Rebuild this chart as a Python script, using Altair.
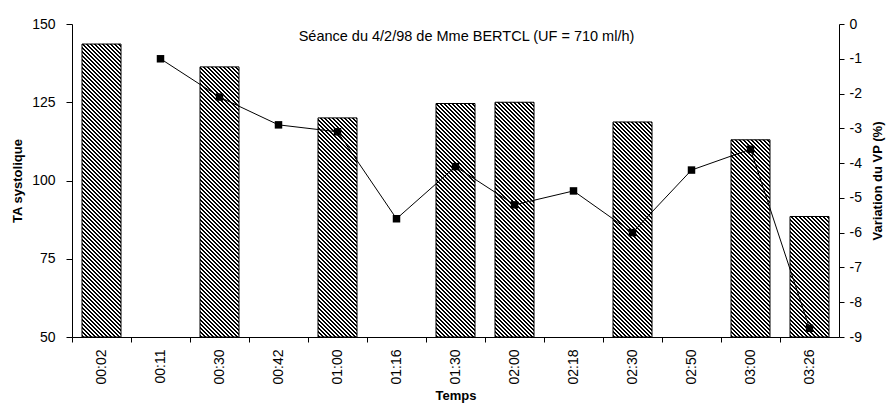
import altair as alt
import pandas as pd

# ---- data ----
temps = ["00:02", "00:11", "00:30", "00:42", "01:00", "01:16", "01:30",
         "02:00", "02:18", "02:30", "02:50", "03:00", "03:26"]

bar_temps = ["00:02", "00:30", "01:00", "01:30", "02:00", "02:30", "03:00", "03:26"]
ta_systolique = [143.6, 136.3, 120.0, 124.6, 125.0, 118.7, 113.0, 88.5]

line_temps = ["00:11", "00:30", "00:42", "01:00", "01:16", "01:30", "02:00",
              "02:18", "02:30", "02:50", "03:00", "03:26"]
variation_vp = [-1.0, -2.1, -2.9, -3.1, -5.6, -4.1, -5.2, -4.8, -6.0, -4.2, -3.6, -8.75]

left_ticks = [50, 75, 100, 125, 150]
right_ticks = [-9, -8, -7, -6, -5, -4, -3, -2, -1, 0]

title_text = "Séance du 4/2/98 de Mme BERTCL (UF = 710 ml/h)"

# ---- layout / style ----
STEP = 59
W, H = STEP * 13, 313
FONT = "Liberation Sans"
Y_MIN, Y_MAX = 50, 150
BAR_PX = 39
BAR_FRAC = BAR_PX / STEP
PERIOD = 4.0          # hatch period (px, horizontal)
SEG_PX = 32.0         # hatch tile height (multiple of PERIOD)
PX_PER_UNIT = H / (Y_MAX - Y_MIN)
SEG_UNITS = SEG_PX / PX_PER_UNIT

bars_df = pd.DataFrame({"temps": bar_temps, "ta": ta_systolique})
line_df = pd.DataFrame({"temps": line_temps, "vp": variation_vp})

# hatch tiles: each bar is split into stacked pieces so every gradient holds few stripes
rows = []
for t, v in zip(bar_temps, ta_systolique):
    lo = Y_MIN
    while lo < v - 1e-9:
        hi = min(lo + SEG_UNITS, v)
        full = (hi - lo) > SEG_UNITS - 1e-9
        rows.append({"temps": t, "lo": lo, "hi": hi, "kind": "full" if full else "top_" + t})
        lo = hi
tiles_df = pd.DataFrame(rows)

x_enc = alt.X(
    "temps:N",
    sort=temps,
    scale=alt.Scale(domain=temps, paddingInner=0, paddingOuter=0),
    axis=alt.Axis(
        title="Temps", labelAngle=-90, bandPosition=0, labelFont=FONT,
        labelFontSize=14, titleFont=FONT, titleFontSize=13, titleFontWeight="bold",
        tickSize=5, labelPadding=7, titlePadding=5, domainColor="black",
        tickColor="black", labelColor="black", titleColor="black",
        labelOverlap=False,
    ),
)

y_scale = alt.Scale(domain=[Y_MIN, Y_MAX], zero=False, nice=False)
left_axis = alt.Axis(
    title="TA systolique", values=left_ticks, grid=False,
    labelFont=FONT, labelFontSize=14, titleFont=FONT, titleFontSize=13,
    titleFontWeight="bold", tickSize=6, labelPadding=11, titlePadding=7,
    domainColor="black", tickColor="black", labelColor="black", titleColor="black",
    labelOverlap=False,
)


def hatch(w, h, period=PERIOD, dark=0.45, shift=0.1):
    c = (w + h) / (w * w + h * h)
    x2 = c * w
    y2 = 1 - c * h
    L = w + h
    stops = []
    k = 0
    while k * period < L - 1e-9:
        a = min((k + shift) * period / L, 1.0)
        b = min((k + shift + dark) * period / L, 1.0)
        e = min((k + 1) * period / L, 1.0)
        s = k * period / L
        stops += [
            alt.GradientStop(offset=round(s, 6), color="white"),
            alt.GradientStop(offset=round(a, 6), color="white"),
            alt.GradientStop(offset=round(a, 6), color="black"),
            alt.GradientStop(offset=round(b, 6), color="black"),
            alt.GradientStop(offset=round(b, 6), color="white"),
            alt.GradientStop(offset=round(e, 6), color="white"),
        ]
        k += 1
    return alt.LinearGradient(gradient="linear", stops=stops, x1=0, y1=1, x2=x2, y2=y2)


tile_layers = []
for kind in tiles_df["kind"].unique():
    sub = tiles_df[tiles_df["kind"] == kind]
    h_px = (sub["hi"].iloc[0] - sub["lo"].iloc[0]) * PX_PER_UNIT
    tile_layers.append(
        alt.Chart(tiles_df)
        .transform_filter(alt.datum.kind == kind)
        .mark_bar(width=alt.RelativeBandSize(BAR_FRAC), fill=hatch(BAR_PX, h_px),
                  strokeWidth=0)
        .encode(x=x_enc, y=alt.Y("lo:Q", scale=y_scale, axis=left_axis),
                y2=alt.Y2("hi:Q"))
    )

outline = (
    alt.Chart(bars_df)
    .mark_bar(width=alt.RelativeBandSize(BAR_FRAC), fillOpacity=0, fill="white",
              stroke="black", strokeWidth=1)
    .encode(x=x_enc, y=alt.Y("ta:Q", scale=y_scale, axis=left_axis),
            y2=alt.datum(Y_MIN))
)

bars = alt.layer(*tile_layers, outline)

y_right = alt.Y(
    "vp:Q",
    scale=alt.Scale(domain=[-9, 0], nice=False, zero=False),
    axis=alt.Axis(
        title="Variation du VP (%)", orient="right", values=right_ticks,
        grid=False, labelFont=FONT, labelFontSize=14, titleFont=FONT,
        titleFontSize=13, titleFontWeight="bold", tickSize=5, labelPadding=5,
        titlePadding=10, titleAngle=270, titleBaseline="top", domainColor="black",
        tickColor="black", labelColor="black", titleColor="black", labelOverlap=False,
        labelExpr="replace(datum.label, '\u2212', '-')",
    ),
)

line = alt.Chart(line_df).mark_line(color="black", strokeWidth=1).encode(
    x=x_enc, y=y_right
)
points = alt.Chart(line_df).mark_point(
    shape="square", filled=True, color="black", size=56, opacity=1
).encode(x=x_enc, y=y_right)

vp = alt.layer(line, points)

chart = (
    alt.layer(bars, vp)
    .resolve_scale(y="independent")
    .properties(
        width=W,
        height=H,
        autosize=alt.AutoSizeParams(type="none"),
        padding={"left": 72, "top": 24, "right": 887 - 72 - W, "bottom": 71},
        title=alt.TitleParams(
            text=title_text, font=FONT, fontSize=14.5, fontWeight="normal",
            color="black", anchor="middle", offset=0, dy=27, dx=11,
        ),
        background="white",
    )
    .configure_view(stroke=None)
)

chart.save("out.html", embed_options={"renderer": "svg", "actions": False})
